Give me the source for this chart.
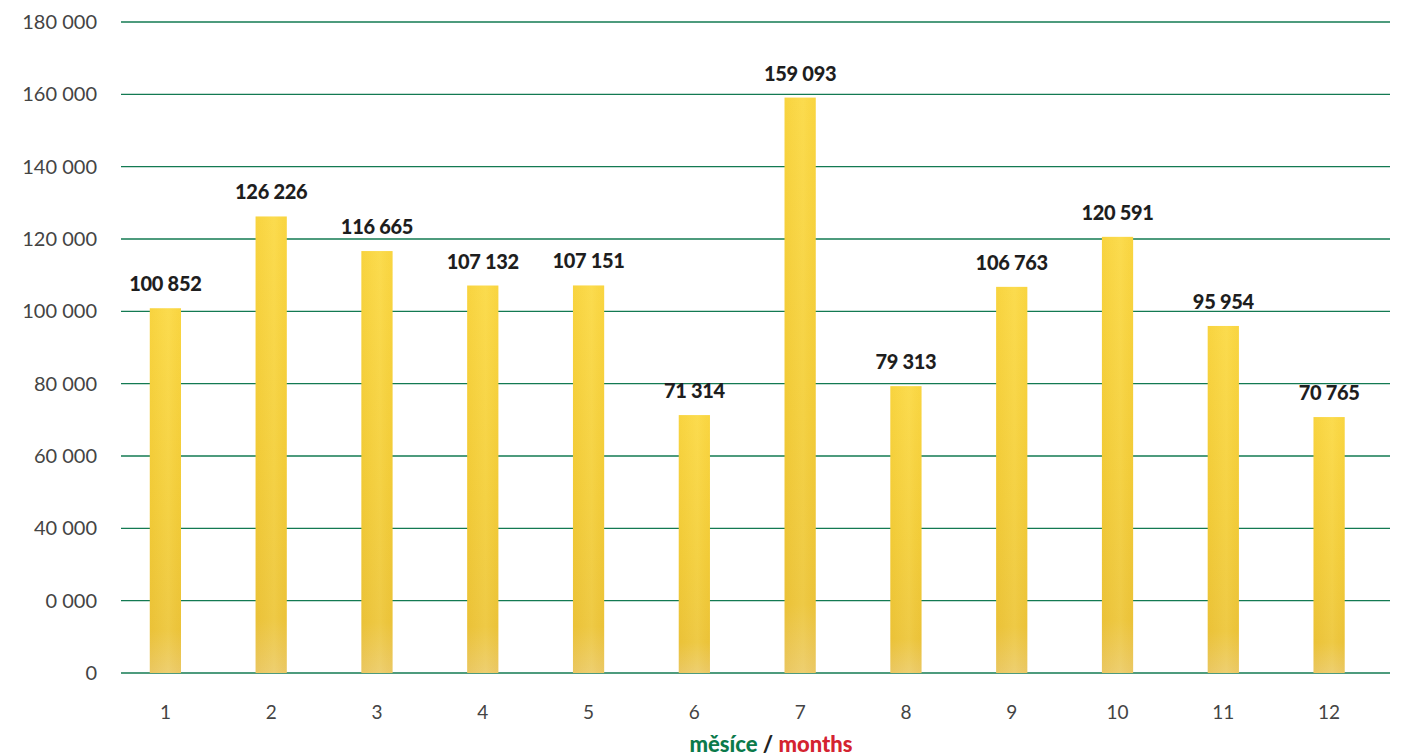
<!DOCTYPE html>
<html>
<head>
<meta charset="utf-8">
<script src="https://cdn.jsdelivr.net/npm/d3@7"></script>
<style>
  body { margin: 0; background: #fff; }
  svg { display: block; }
</style>
</head>
<body>
<div id="chart"></div>
<script>
const months = ['1', '2', '3', '4', '5', '6', '7', '8', '9', '10', '11', '12']
const visitors = [100852, 126226, 116665, 107132, 107151, 71314, 159093, 79313, 106763, 120591, 95954, 70765]
const tickValues = [0, 20000, 40000, 60000, 80000, 100000, 120000, 140000, 160000, 180000]
const tickLabels = ['0', '0 000', '40 000', '60 000', '80 000', '100 000', '120 000', '140 000', '160 000', '180 000']
const valueLabels = ['100 852', '126 226', '116 665', '107 132', '107 151', '71 314', '159 093', '79 313', '106 763', '120 591', '95 954', '70 765']

const width = 1401
const height = 756
const margin = { top: 22, right: 11, bottom: 83, left: 121 }

const svg = d3
  .select('#chart')
  .append('svg')
  .attr('width', width)
  .attr('height', height)

const defs = svg.append('defs')
const grad = defs
  .append('linearGradient')
  .attr('id', 'gold')
  .attr('x1', 0).attr('y1', 0).attr('x2', 0).attr('y2', 1)
grad.append('stop').attr('offset', '0%').attr('stop-color', '#fbd843')
grad.append('stop').attr('offset', '55%').attr('stop-color', '#f3cd39')
grad.append('stop').attr('offset', '88%').attr('stop-color', '#ecc43a')
grad.append('stop').attr('offset', '100%').attr('stop-color', '#ebca6a')

const hgrad = defs
  .append('linearGradient')
  .attr('id', 'sheen')
  .attr('x1', 0).attr('y1', 0).attr('x2', 1).attr('y2', 0)
hgrad.append('stop').attr('offset', '0%').attr('stop-color', '#e0b020').attr('stop-opacity', 0.12)
hgrad.append('stop').attr('offset', '60%').attr('stop-color', '#fff4a0').attr('stop-opacity', 0.12)
hgrad.append('stop').attr('offset', '100%').attr('stop-color', '#e0b020').attr('stop-opacity', 0.08)

const y = d3
  .scaleLinear()
  .domain([0, 180000])
  .range([height - margin.bottom, margin.top])

const x = d3
  .scaleBand()
  .domain(months)
  .range([112.5, 1382])
  .paddingInner(0.705)
  .paddingOuter(0.3525)

// grid
svg
  .append('g')
  .selectAll('line')
  .data(tickValues)
  .join('line')
  .attr('x1', margin.left)
  .attr('x2', width - margin.right)
  .attr('y1', d => y(d))
  .attr('y2', d => y(d))
  .attr('stroke', '#137a52')
  .attr('stroke-width', 1.4)

// y labels
svg
  .append('g')
  .selectAll('text')
  .data(tickValues)
  .join('text')
  .attr('x', 97)
  .attr('y', d => y(d))
  .attr('dy', '0.35em')
  .attr('text-anchor', 'end')
  .attr('font-family', 'Lato, sans-serif')
  .attr('font-size', 20)
  .attr('fill', '#444')
  .text((d, i) => tickLabels[i])

// bars
const bars = svg.append('g')
bars
  .selectAll('rect.bar')
  .data(visitors)
  .join('rect')
  .attr('class', 'bar')
  .attr('x', (d, i) => x(months[i]))
  .attr('y', d => y(d))
  .attr('width', x.bandwidth())
  .attr('height', d => y(0) - y(d))
  .attr('fill', 'url(#gold)')
bars
  .selectAll('rect.sheen')
  .data(visitors)
  .join('rect')
  .attr('class', 'sheen')
  .attr('x', (d, i) => x(months[i]))
  .attr('y', d => y(d))
  .attr('width', x.bandwidth())
  .attr('height', d => y(0) - y(d))
  .attr('fill', 'url(#sheen)')

// value labels
svg
  .append('g')
  .selectAll('text')
  .data(visitors)
  .join('text')
  .attr('x', (d, i) => x(months[i]) + x.bandwidth() / 2)
  .attr('y', d => y(d) - 17)
  .attr('text-anchor', 'middle')
  .attr('font-family', 'Lato, sans-serif')
  .attr('font-weight', 900)
  .attr('font-size', 20)
  .attr('letter-spacing', -0.3)
  .attr('fill', '#1e1e1e')
  .text((d, i) => valueLabels[i])

// x labels
svg
  .append('g')
  .selectAll('text')
  .data(months)
  .join('text')
  .attr('x', d => x(d) + x.bandwidth() / 2)
  .attr('y', 712)
  .attr('dy', '0.35em')
  .attr('text-anchor', 'middle')
  .attr('font-family', 'Lato, sans-serif')
  .attr('font-size', 19)
  .attr('fill', '#444')
  .text(d => d)

// axis title
const title = svg
  .append('text')
  .attr('x', 771)
  .attr('y', 752)
  .attr('text-anchor', 'middle')
  .attr('font-family', 'Lato, sans-serif')
  .attr('font-weight', 900)
  .attr('font-size', 22)
title.append('tspan').attr('fill', '#0b7a4b').text('měsíce')
title.append('tspan').attr('fill', '#222').text(' / ')
title.append('tspan').attr('fill', '#d42330').text('months')
</script>
</body>
</html>
